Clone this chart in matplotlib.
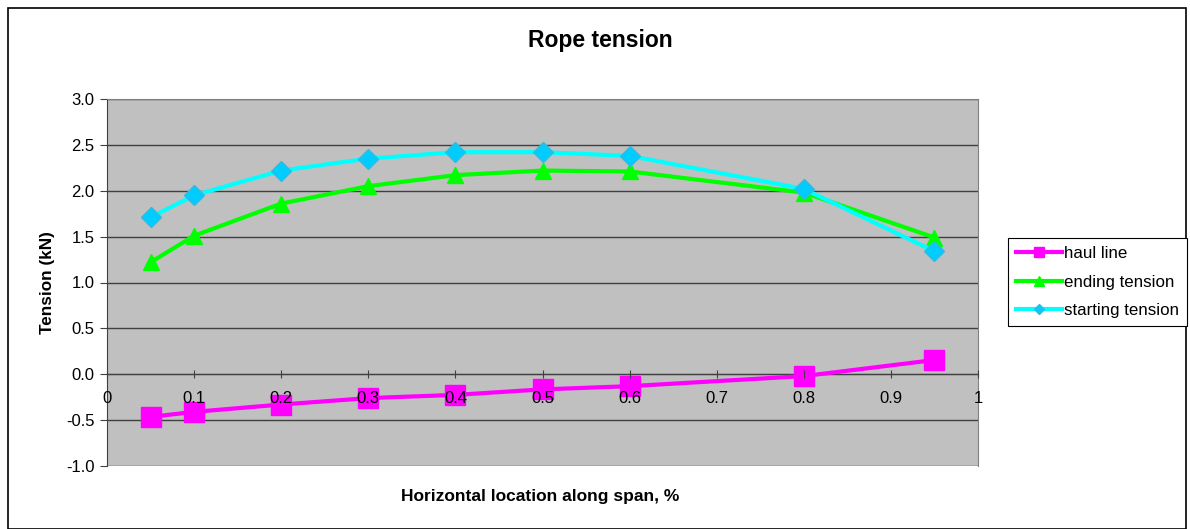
import numpy as np
import matplotlib
matplotlib.use('Agg')
import matplotlib.pyplot as plt
from matplotlib.patches import Rectangle

plt.rcParams['font.family'] = ['Liberation Sans', 'DejaVu Sans']

span = [0.05, 0.1, 0.2, 0.3, 0.4, 0.5, 0.6, 0.8, 0.95]
haul_line = [-0.465, -0.41, -0.33, -0.26, -0.225, -0.165, -0.13, -0.02, 0.155]
ending_tension = [1.22, 1.51, 1.86, 2.05, 2.17, 2.22, 2.21, 1.98, 1.49]
starting_tension = [1.71, 1.95, 2.22, 2.35, 2.42, 2.42, 2.38, 2.02, 1.34]

fig = plt.figure(figsize=(11.9, 5.29), dpi=100)
fig.patches.append(Rectangle((8/1190, 0.0), 1178/1190, 1 - 8/529, transform=fig.transFigure,
                             fill=False, edgecolor='black', linewidth=1.2))

ax = fig.add_axes([107/1190, 1 - 466/529, (978 - 107)/1190, (466 - 99)/529])
ax.set_facecolor('#C0C0C0')

ax.plot(span, haul_line, color='#FF00FF', lw=3, marker='s', ms=14, mfc='#FF00FF', mec='#FF00FF',
        label='haul line', zorder=3)
ax.plot(span, ending_tension, color='#00FF00', lw=3, marker='^', ms=12, mfc='#00FF00', mec='#00FF00',
        label='ending tension', zorder=3)
ax.plot(span, starting_tension, color='#00FFFF', lw=3, marker='D', ms=10, mfc='#00CCFF', mec='#33BBDD',
        label='starting tension', zorder=4)

ax.spines['bottom'].set_position(('data', 0))
ax.set_xlim(0, 1)
ax.set_ylim(-1.0, 3.0)
yt = np.arange(-1.0, 3.01, 0.5)
ax.set_yticks(yt)
ax.set_yticklabels(['%.1f' % v for v in yt])
ax.set_xticks(np.arange(0, 1.01, 0.1))
ax.set_xticklabels(['0', '0.1', '0.2', '0.3', '0.4', '0.5', '0.6', '0.7', '0.8', '0.9', '1'])
ax.grid(axis='y', color='#404040', lw=1)
ax.set_axisbelow(True)

for s in ['top', 'right']:
    ax.spines[s].set_color('#808080')
ax.spines['left'].set_color('#404040')
ax.spines['bottom'].set_color('#404040')
ax.tick_params(axis='x', direction='inout', length=6, color='#404040', pad=9, labelsize=12)
ax.tick_params(axis='y', direction='out', length=5, color='#404040', pad=4, labelsize=12)
ax.xaxis.set_zorder(5)
ax.spines['bottom'].set_zorder(2)

ax.set_ylabel('Tension (kN)', fontsize=12.3, fontweight='bold', labelpad=8)
fig.text(540/1190, 1 - 497/529, 'Horizontal location along span, %', fontsize=12.5,
         fontweight='bold', ha='center', va='center')
fig.text(600/1190, 1 - 40/529, 'Rope tension', fontsize=16.5, fontweight='bold',
         ha='center', va='center')

leg = fig.legend(loc='center left', bbox_to_anchor=(1008/1190, 1 - 282/529), fontsize=12.2,
                 frameon=True, fancybox=False, edgecolor='black', framealpha=1,
                 handlelength=2.75, handletextpad=0.1, borderpad=0.45, labelspacing=0.8,
                 borderaxespad=0, markerscale=0.55)
leg.get_frame().set_linewidth(0.8)

fig.savefig('out.png', dpi=100)
